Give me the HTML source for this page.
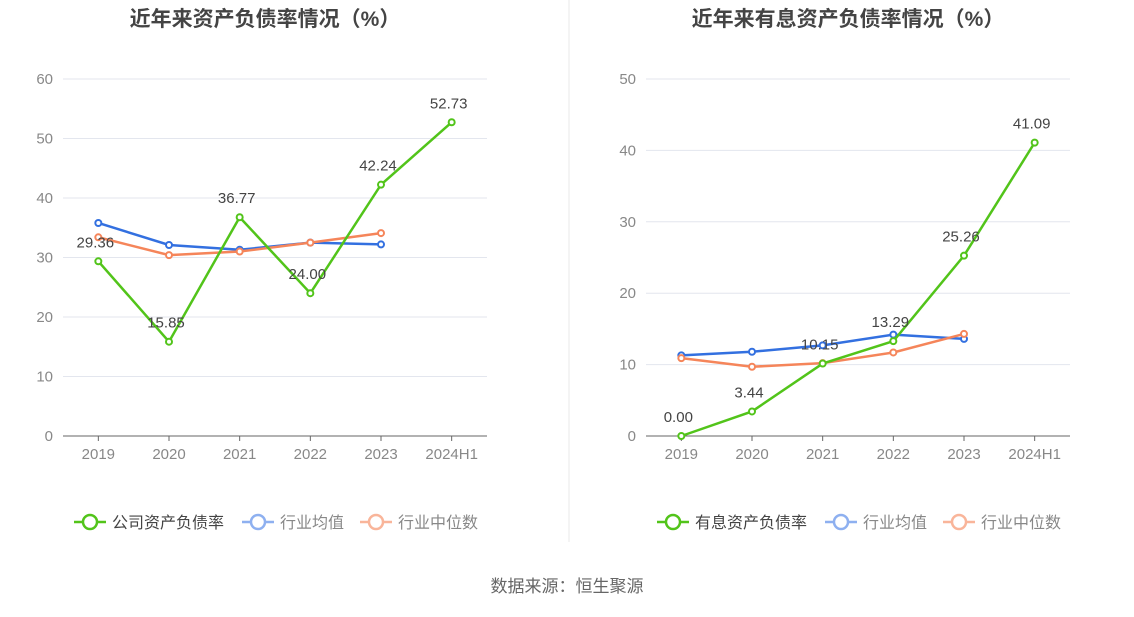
<!DOCTYPE html>
<html><head><meta charset="utf-8"><style>
body{margin:0;background:#fff;font-family:"Liberation Sans","Noto Sans CJK SC",sans-serif}
</style></head><body>
<svg id="svg" width="1134" height="612" xmlns="http://www.w3.org/2000/svg" font-family="Liberation Sans, Noto Sans CJK SC, sans-serif">
<line x1="569" y1="0" x2="569" y2="542" stroke="#e8e8e8"/>
<text x="567" y="592" text-anchor="middle" font-size="17" fill="#666">数据来源：恒生聚源</text>
</svg>
<script>
const categories=["2019","2020","2021","2022","2023","2024H1"];
const leftCompany=[29.36,15.85,36.77,24.00,42.24,52.73];
const leftAvg=[35.8,32.1,31.3,32.5,32.2];
const leftMedian=[33.4,30.4,31.0,32.5,34.1];
const leftTicks=[0,10,20,30,40,50,60];
const rightCompany=[0.00,3.44,10.15,13.29,25.26,41.09];
const rightAvg=[11.3,11.8,12.7,14.2,13.6];
const rightMedian=[10.9,9.7,10.2,11.7,14.3];
const rightTicks=[0,10,20,30,40,50];
const svg=document.getElementById('svg');const NS='http://www.w3.org/2000/svg';
function el(t,a,txt){const e=document.createElementNS(NS,t);for(const k in a)e.setAttribute(k,a[k]);if(txt!==undefined)e.textContent=txt;svg.appendChild(e);return e;}
function chart(o){
 const x0=o.x0,x1=o.x1,yT=79,yB=436,bw=(x1-x0)/categories.length;
 const max=o.ticks[o.ticks.length-1];
 const X=i=>x0+bw*(i+0.5),Y=v=>yB-(v/max)*(yB-yT);
 let t=el('text',{x:(x0+x1)/2-10,y:26,'text-anchor':'middle','font-size':21,'font-weight':'bold',fill:'#444'},o.title);
 
 o.ticks.forEach(v=>{
  if(v>0){const g=el('line',{x1:x0,x2:x1,y1:Y(v),y2:Y(v),stroke:'#e3e6ee'});}
  const l=el('text',{x:x0-10,y:Y(v)+5,'text-anchor':'end','font-size':15,fill:'#888'},v);
  
 });
 const ax=el('line',{x1:x0,x2:x1,y1:yB,y2:yB,stroke:'#666'});
 categories.forEach((c,i)=>{
  const tk=el('line',{x1:X(i),x2:X(i),y1:yB,y2:yB+5,stroke:'#666'});
  const l=el('text',{x:X(i),y:459,'text-anchor':'middle','font-size':15,fill:'#888'},c);
  
 });
 const series=[[o.avg,'#3370e0','avg'],[o.med,'#f5855a','median'],[o.comp,'#52c41a','company']];
 series.forEach(([d,c,n])=>{
  const pl=el('polyline',{points:d.map((v,i)=>X(i)+','+Y(v)).join(' '),fill:'none',stroke:c,'stroke-width':2.5});
  
  d.forEach((v,i)=>{const p=el('circle',{cx:X(i),cy:Y(v),r:3,fill:'#fff',stroke:c,'stroke-width':2});
   });
 });
 o.comp.forEach((v,i)=>{const l=el('text',{x:X(i)-3,y:Y(v)-14,'text-anchor':'middle','font-size':15,fill:'#444'},v.toFixed(2));
  });
 const lx=o.legX,ly=522;
 const items=[[o.name,'#52c41a',lx],['行业均值','#8eb0f0',lx+168],['行业中位数','#f9b59a',lx+286]];
 items.forEach(([n,c,x],k)=>{
  const ln=el('line',{x1:x,x2:x+32,y1:ly,y2:ly,stroke:c,'stroke-width':2.5});
  const ci=el('circle',{cx:x+16,cy:ly,r:7,fill:'#fff',stroke:c,'stroke-width':2.5});
  const tx=el('text',{x:x+38,y:ly+6,'font-size':16,fill:k==0?'#444':'#888'},n);
 });
}
chart({p:'left',x0:63,x1:487,ticks:leftTicks,comp:leftCompany,avg:leftAvg,med:leftMedian,title:'近年来资产负债率情况（%）',name:'公司资产负债率',legX:74});
chart({p:'right',x0:646,x1:1070,ticks:rightTicks,comp:rightCompany,avg:rightAvg,med:rightMedian,title:'近年来有息资产负债率情况（%）',name:'有息资产负债率',legX:657});
</script>
</body></html>
